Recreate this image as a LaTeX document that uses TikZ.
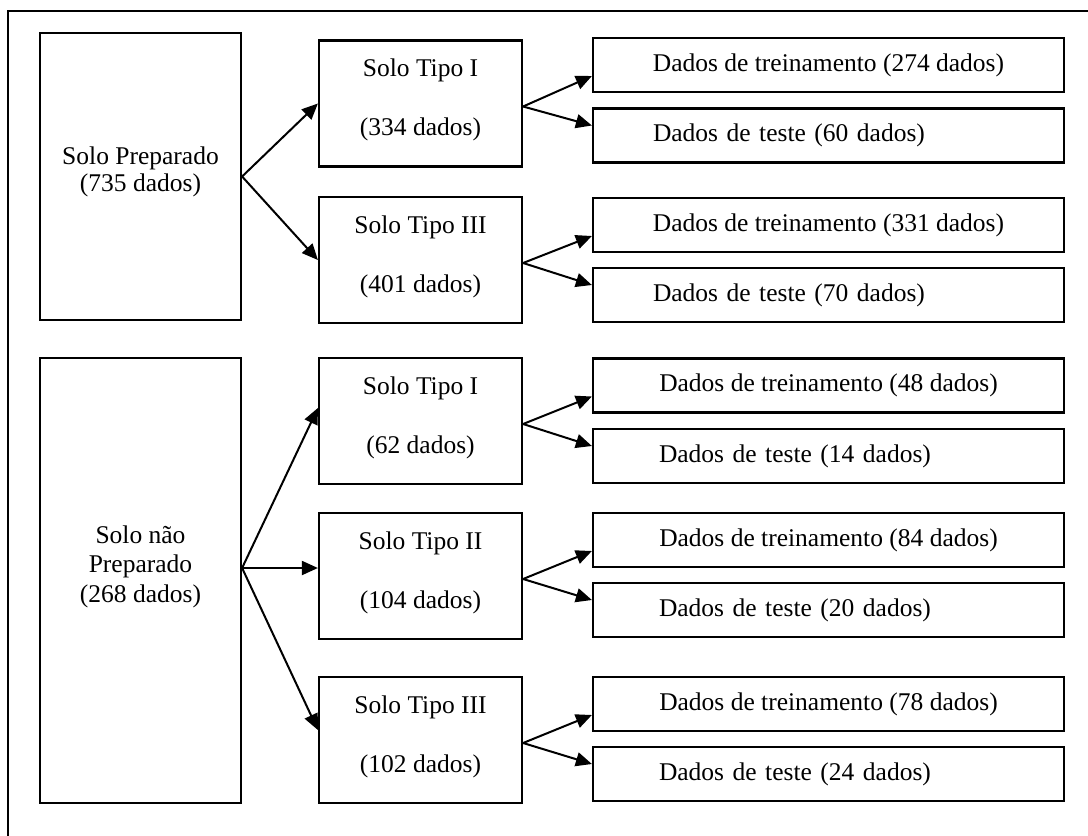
\documentclass[tikz,border=0pt]{standalone}
\usepackage{fontspec}
\setmainfont{Liberation Serif}
\usetikzlibrary{arrows.meta,positioning}

\begin{document}
\begin{tikzpicture}[x=0.5pt,y=-0.5pt,
  every node/.style={font=\fontsize{12.75}{14.75}\selectfont},
  caixa/.style={draw,line width=1.1pt,align=center},
  solo/.style={caixa,minimum width=100.5pt,minimum height=#1},
  tipo/.style={caixa,minimum width=101.5pt,minimum height=63pt,text depth=6pt},
  treino/.style={caixa,minimum width=235.5pt,minimum height=27pt},
  teste/.style={caixa,minimum width=235.5pt,minimum height=27pt,text width=#1,align=left},
  seta/.style={-{Triangle[length=8pt,width=7pt]},line width=1pt}]
\useasboundingbox (0,0) rectangle (1088,836);
\draw[line width=1pt] (8,836) -- (8,11) -- (1088,11);

\node[solo=143.5pt,font=\fontsize{12.75}{13.5}\selectfont,text depth=7.25pt] (SP) at (140.5,176.5) {Solo Preparado\\(735 dados)};
\node[solo=222.5pt,text depth=16.75pt] (SnP) at (140.5,580.5) {Solo não\\Preparado\\(268 dados)};

\node[tipo] (T1a) at (420.5,103.5) {Solo Tipo I\\[14.75pt](334 dados)};
\node[tipo] (T3a) at (420.5,260) {Solo Tipo III\\[14.75pt](401 dados)};
\node[tipo] (T1b) at (420.5,421) {Solo Tipo I\\[14.75pt](62 dados)};
\node[tipo] (T2b) at (420.5,576) {Solo Tipo II\\[14.75pt](104 dados)};
\node[tipo] (T3b) at (420.5,740) {Solo Tipo III\\[14.75pt](102 dados)};

\node[treino] (tr1) at (828.5,65) {Dados de treinamento (274 dados)};
\node[teste=175.5pt] (te1) at (828.5,135.5) {Dados de teste (60 dados)};
\node[treino] (tr2) at (828.5,225) {Dados de treinamento (331 dados)};
\node[teste=175.5pt] (te2) at (828.5,295) {Dados de teste (70 dados)};
\node[treino] (tr3) at (828.5,385.5) {Dados de treinamento (48 dados)};
\node[teste=169.5pt] (te3) at (828.5,456) {Dados de teste (14 dados)};
\node[treino] (tr4) at (828.5,540) {Dados de treinamento (84 dados)};
\node[teste=169.5pt] (te4) at (828.5,610) {Dados de teste (20 dados)};
\node[treino] (tr5) at (828.5,704) {Dados de treinamento (78 dados)};
\node[teste=169.5pt] (te5) at (828.5,774) {Dados de teste (24 dados)};

\draw[seta] (SP.east) -- (T1a.west);
\draw[seta] (SP.east) -- (T3a.west);
\foreach \t/\s in {T1b/6.5pt,T2b/4pt,T3b/5pt} {
\draw[seta] ([yshift=6.25pt]SnP.east) -- ([yshift=\s]\t.west);
}

\foreach \t/\a/\b in {T1a/tr1/te1,T3a/tr2/te2,T1b/tr3/te3,T2b/tr4/te4,T3b/tr5/te5} {
\draw[seta] ([yshift=-1.5pt]\t.east) -- ([yshift=-5.5pt]\a.west);
\draw[seta] ([yshift=-1.5pt]\t.east) -- ([yshift=5pt]\b.west);
}
\end{tikzpicture}
\end{document}
